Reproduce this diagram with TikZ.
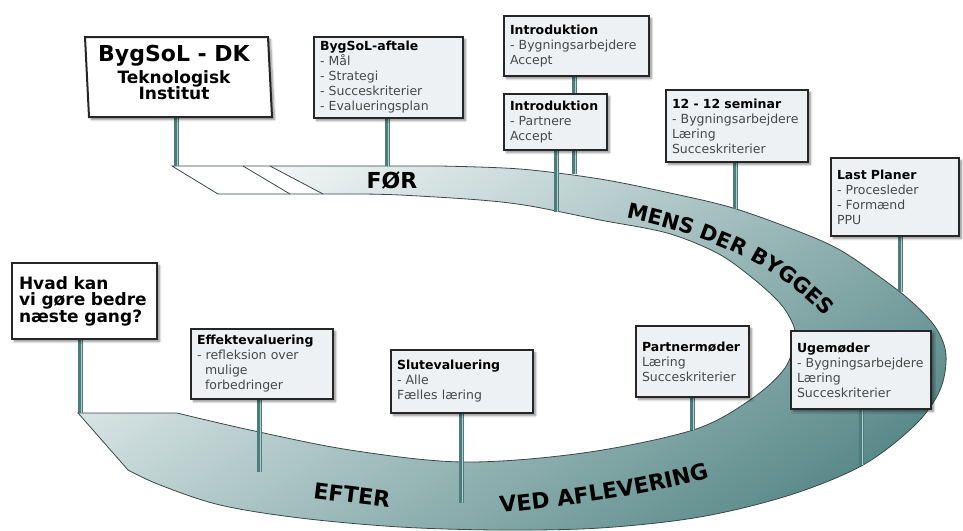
\documentclass[tikz,border=0pt]{standalone}
\usepackage{fontspec}
\setmainfont{DejaVu Sans}
\usetikzlibrary{decorations.text,shadows.blur}
\pgfdeclarelayer{front}
\pgfsetlayers{main,front}
\definecolor{bandL}{HTML}{F8FAFA}
\definecolor{bandM}{HTML}{A8C2C2}
\definecolor{bandD}{HTML}{5B8A8A}
\definecolor{edgec}{HTML}{3A4848}
\definecolor{poleD}{HTML}{4C7D7D}
\definecolor{poleL}{HTML}{B3CCCC}
\definecolor{boxfill}{HTML}{EEF1F4}
\definecolor{boxline}{HTML}{262626}
\definecolor{itemc}{HTML}{484848}
\newcommand{\hd}[1]{{\color{black}\bfseries #1}}
\tikzset{
  infobox/.style={draw=boxline, line width=2pt, fill=boxfill, anchor=north west,
    align=left, inner xsep=6pt, inner ysep=0pt,
    font=\fontsize{12.5}{15}\selectfont, text=itemc,
    blur shadow={shadow xshift=2.5pt, shadow yshift=-2.5pt, shadow blur steps=6, shadow opacity=45}},
  pole/.style={draw=poleD, line width=5pt,
    postaction={draw=poleL, line width=1.4pt, transform canvas={xshift=1.3pt}}},
  bandtext/.style={font=\fontsize{22}{22}\selectfont\bfseries, text=black},
}
\begin{document}
\begin{tikzpicture}[x=1pt,y=-1pt]
\useasboundingbox (0,0) rectangle (963,530);
% ribbon
\path[save path=\ribbon] (172,166) -- (440,166) -- plot[smooth,tension=0.55] coordinates {(440,166) (520,169) (600,179) (670,193) (733,208) (800,232) (840,250) (880,277) (912,302) (936,328) (946,355) (940,390) (915,425) (863,465) (790,495) (700,517) (600,528) (500,530) (400,527) (300,518) (220,505) (160,485) (128,470)} -- (78,413) -- (177,413) -- plot[smooth,tension=0.55] coordinates {(177,413) (250,430) (350,450) (463,462) (583,453) (693,430) (750,400) (785,368) (795,336) (790,318) (777,300) (750,276) (717,253) (667,233) (600,220) (530,206) (480,200) (400,195) (360,194)} -- (218,194) -- cycle;
\begin{scope}
\clip[use path=\ribbon];
\shade[top color=bandL, bottom color=bandD, middle color=bandM, shading angle=34] (60,140) rectangle (963,535);
\fill[white] (172,166) -- (270,166) -- (323,194) -- (218,194) -- cycle;
\end{scope}
\draw[edgec, line width=0.8pt, use path=\ribbon];
\draw[edgec, line width=0.8pt] (243,166) -- (290,194) (270,166) -- (323,194);
\node[bandtext, anchor=base] (foer) at (392,188) {FØR};
\node[bandtext, anchor=base, rotate=-7] (efter) at (351,503) {EFTER};
\path[decorate, decoration={text along path, text color=black,
  text={|\fontsize{21}{21}\selectfont\bfseries|MENS DER BYGGES}}]
  (626,218) .. controls (692,232) and (795,262) .. (850,350);
\path[decorate, decoration={text along path, text color=black, text align=center,
  text={|\fontsize{22}{22}\selectfont\bfseries|VED AFLEVERING}}]
  (488,514) .. controls (560,507) and (650,496) .. (722,474);
% boxes
\begin{pgfonlayer}{front}
\draw[boxline, line width=2pt, fill=white, blur shadow={shadow xshift=2.5pt, shadow yshift=-2.5pt, shadow blur steps=6, shadow opacity=45}]
  (85,37) -- (268,37) -- (272,117) -- (89,117) -- cycle;
\node[align=center, inner sep=0pt, anchor=north, text=black,
  font={\fontsize{17}{16}\selectfont\bfseries\lineskiplimit=-30pt\relax}] (dk) at (174,45)
  {{\fontsize{22}{16}\selectfont BygSoL - DK}\\[6pt]Teknologisk\\Institut};
\node[infobox, fill=white, minimum width=145, minimum height=76, text width=131pt, inner xsep=7pt,
  font=\fontsize{17}{16.5}\selectfont\bfseries, text=black] (hv) at (11,262)
  {Hvad kan\\vi gøre bedre\\næste gang?};
\node[infobox, minimum width=149, minimum height=81, text width=137pt] (aft) at (313,36)
  {\hd{BygSoL-aftale}\\- Mål\\- Strategi\\- Succeskriterier\\- Evalueringsplan};
\node[infobox, minimum width=145, minimum height=60, text width=133pt] (in1) at (503,15)
  {\hd{Introduktion}\\- Bygningsarbejdere\\Accept};
\node[infobox, minimum width=103, minimum height=56, text width=91pt] (in2) at (503,93)
  {\hd{Introduktion}\\- Partnere\\Accept};
\node[infobox, minimum width=142, minimum height=72, text width=130pt] (sem) at (665,89)
  {\hd{12 - 12 seminar}\\- Bygningsarbejdere\\Læring\\Succeskriterier};
\node[infobox, minimum width=128, minimum height=78, text width=116pt] (lp) at (830,157)
  {\hd{Last Planer}\\- Procesleder\\- Formænd\\PPU};
\node[infobox, minimum width=113, minimum height=71, text width=101pt] (pm) at (635,325)
  {\hd{Partnermøder}\\Læring\\Succeskriterier};
\node[infobox, minimum width=140, minimum height=78, text width=128pt] (ug) at (790,330)
  {\hd{Ugemøder}\\- Bygningsarbejdere\\Læring\\Succeskriterier};
\node[infobox, minimum width=142, minimum height=70, text width=130pt] (eff) at (190,328)
  {\hd{Effektevaluering}\\- refleksion over\\\hspace*{8pt}mulige\\\hspace*{8pt}forbedringer};
\node[infobox, minimum width=142, minimum height=63, text width=130pt] (slut) at (390,349)
  {\hd{Slutevaluering}\\- Alle\\Fælles læring};
\end{pgfonlayer}
% pole feet
\coordinate (pdk) at (176,166);
\coordinate (paft) at (387,166);
\coordinate (pin1) at (574,174);
\coordinate (pin2) at (556,212);
\coordinate (psem) at (735,209);
\coordinate (plp) at (900,292);
\coordinate (pug) at (861,465);
\coordinate (ppm) at (692,430);
\coordinate (pslut) at (461,503);
\coordinate (peff) at (259,472);
\coordinate (phv) at (80,413);
\draw[pole] (pdk |- 0,117) -- (pdk);
\draw[pole] (hv.south -| phv) -- (phv);
\draw[pole] (aft.south -| paft) -- (paft);
\draw[pole] (in1.south -| pin1) -- (pin1);
\draw[pole] (in2.south -| pin2) -- (pin2);
\draw[pole] (sem.south -| psem) -- (psem);
\draw[pole] (lp.south -| plp) -- (plp);
\draw[pole] (pm.south -| ppm) -- (ppm);
\draw[pole] (ug.south -| pug) -- (pug);
\draw[pole] (eff.south -| peff) -- (peff);
\draw[pole] (slut.south -| pslut) -- (pslut);
\end{tikzpicture}
\end{document}
